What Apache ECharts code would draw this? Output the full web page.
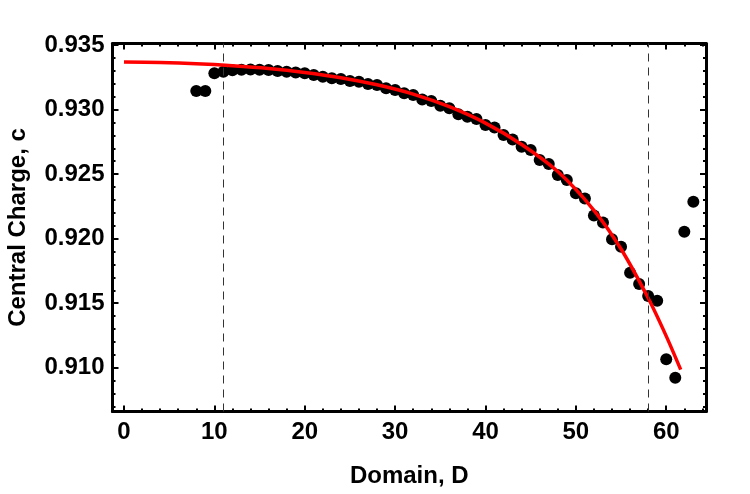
<!DOCTYPE html>
<html><head><meta charset="utf-8">
<script src="https://cdn.jsdelivr.net/npm/echarts@6/dist/echarts.min.js"></script>
<style>html,body{margin:0;padding:0;background:#fff}#c{width:750px;height:494px}</style>
</head><body><div id="c"></div>
<script>
// Measured data: domain size D and central charge c
const domainD = [8,9,10,11,12,13,14,15,16,17,18,19,20,21,22,23,24,25,26,27,28,29,30,31,32,33,34,35,36,37,38,39,40,41,42,43,44,45,46,47,48,49,50,51,52,53,54,55,56,57,58,59,60,61,62,63];
const centralCharge = [0.93144,0.93144,0.93281,0.93293,0.93305,0.93309,0.93310,0.93309,0.93306,0.93299,0.93293,0.93288,0.93281,0.93268,0.93255,0.93242,
  0.93237,0.93221,0.93216,0.93198,0.93190,0.93165,0.93151,0.93126,0.93113,0.93079,0.93066,0.93030,0.93010,0.92963,0.92945,0.92927,
  0.92880,0.92862,0.92803,0.92769,0.92712,0.92687,0.92609,0.92578,0.92493,0.92454,0.92351,0.92312,0.92179,0.92126,0.91995,0.91937,
  0.91736,0.91648,0.91555,0.91519,0.91065,0.90923,0.92054,0.92286];
// Fit curve (red)
const fitD = [0,4,8,12,16,20,24,28,32,36,40,44,48,52,55,58,60,61.6];
const fitC = [0.93368,0.93364,0.93355,0.93340,0.93319,0.93288,0.93247,0.93192,0.93120,0.93022,0.92895,0.92730,0.92520,0.92220,0.91920,0.91540,0.91245,0.90985];
// Fit window boundaries (dashed lines)
const cutoffs = [11, 58];
const xTitle = 'Domain, D';
const yTitle = 'Central Charge, c';

const X_MIN = -1.27, X_MAX = 64.4, Y_MIN = 0.90661, Y_MAX = 0.93512;
const FONT = '"Liberation Sans", Arial, sans-serif';
const FS = 24;

function axisBase(showLabels) {
  return {
    axisLine: {show: true, onZero: false, lineStyle: {color: '#000', width: 3}},
    axisTick: {show: true, inside: true, length: 6, lineStyle: {color: '#000', width: 2}},
    minorTick: {show: true, splitNumber: 5, length: 3, lineStyle: {color: '#000', width: 2}},
    splitLine: {show: false},
    minorSplitLine: {show: false},
    axisLabel: {show: showLabels}
  };
}

const scatterData = domainD.map((d, i) => [d, centralCharge[i]]);
const fitData = fitD.map((d, i) => [d, fitC[i]]);

const chart = echarts.init(document.getElementById('c'), null, {renderer: 'canvas'});
chart.setOption({
  animation: false,
  backgroundColor: '#fff',
  grid: {left: 112.5, right: 44, top: 43.5, bottom: 82.5, containLabel: false, outerBoundsMode: 'none'},
  xAxis: [
    Object.assign(axisBase(true), {
      type: 'value', position: 'bottom', min: X_MIN, max: X_MAX,
      name: xTitle, nameLocation: 'middle', nameGap: 53,
      nameTextStyle: {fontFamily: FONT, fontWeight: 'bold', fontSize: FS, color: '#000'},
      axisLabel: {show: true, margin: 9, fontFamily: FONT, fontWeight: 'bold', fontSize: FS, color: '#000',
        formatter: v => (Math.abs(v / 10 - Math.round(v / 10)) < 1e-6 ? String(Math.round(v)) : '')}
    }),
    Object.assign(axisBase(false), {type: 'value', position: 'top', min: X_MIN, max: X_MAX})
  ],
  yAxis: [
    Object.assign(axisBase(true), {
      type: 'value', position: 'left', min: Y_MIN, max: Y_MAX, scale: true,
      name: yTitle, nameLocation: 'middle', nameGap: 82, nameRotate: 90,
      nameTextStyle: {fontFamily: FONT, fontWeight: 'bold', fontSize: FS, color: '#000'},
      axisLabel: {show: true, margin: 8, fontFamily: FONT, fontWeight: 'bold', fontSize: FS, color: '#000',
        formatter: v => (Math.abs(v * 200 - Math.round(v * 200)) < 1e-6 ? v.toFixed(3) : '')}
    }),
    Object.assign(axisBase(false), {type: 'value', position: 'right', min: Y_MIN, max: Y_MAX, scale: true})
  ],
  series: [
    {
      type: 'scatter', xAxisIndex: 0, yAxisIndex: 0,
      data: scatterData, symbol: 'circle', symbolSize: 12,
      itemStyle: {color: '#000', opacity: 1}, z: 2,
      markLine: {
        silent: true, symbol: 'none', label: {show: false},
        lineStyle: {color: '#333', width: 1, type: [8, 6], opacity: 1},
        data: cutoffs.map(v => ({xAxis: v}))
      }
    },
    {
      type: 'line', xAxisIndex: 0, yAxisIndex: 0,
      data: fitData, smooth: 0.3, showSymbol: false,
      lineStyle: {color: '#ff0000', width: 3.5}, z: 3
    }
  ]
});
</script>
</body></html>
